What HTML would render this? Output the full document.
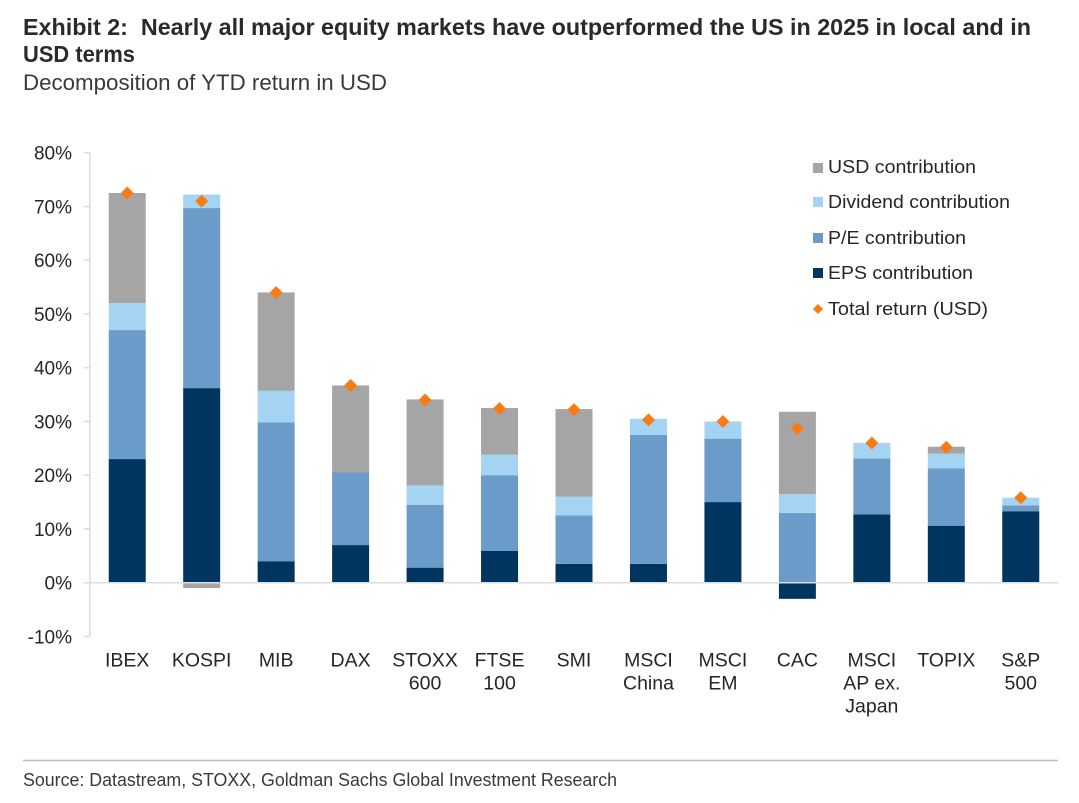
<!DOCTYPE html>
<html lang="en">
<head>
<meta charset="utf-8">
<title>Exhibit 2</title>
<style>
html,body{margin:0;padding:0;background:#fff;width:1079px;height:803px;overflow:hidden}
svg{display:block;font-family:"Liberation Sans",Arial,sans-serif}
</style>
</head>
<body>
<svg id="chart" width="1079" height="803" viewBox="0 0 1079 803" xmlns="http://www.w3.org/2000/svg">
  <rect x="0" y="0" width="1079" height="803" fill="#ffffff"/>
  <text x="23" y="35" font-size="23" font-weight="700" fill="#2a2a2e" textLength="1008" lengthAdjust="spacingAndGlyphs" xml:space="preserve">Exhibit 2:  Nearly all major equity markets have outperformed the US in 2025 in local and in</text>
  <text x="23" y="62" font-size="23" font-weight="700" fill="#2a2a2e" textLength="112" lengthAdjust="spacingAndGlyphs">USD terms</text>
  <text x="23" y="90" font-size="22" fill="#3a3a3e" textLength="364" lengthAdjust="spacingAndGlyphs">Decomposition of YTD return in USD</text>

  <g id="y-axis"></g>
  <g id="bars"></g>
  <line id="zero-line" stroke="#dcdcdc" stroke-width="1.5"/>
  <g id="markers"></g>
  <g id="x-axis"></g>

  <g font-size="18.5" fill="#262626">
    <g>
      <rect x="813" y="163" width="10" height="10" fill="#a5a5a5"/>
      <text x="828" y="173" textLength="148" lengthAdjust="spacingAndGlyphs">USD contribution</text>
    </g>
    <g>
      <rect x="813" y="197" width="10" height="10" fill="#a5d4f3"/>
      <text x="828" y="208" textLength="182" lengthAdjust="spacingAndGlyphs">Dividend contribution</text>
    </g>
    <g>
      <rect x="813" y="233" width="10" height="10" fill="#6a9bc9"/>
      <text x="828" y="244" textLength="138" lengthAdjust="spacingAndGlyphs">P/E contribution</text>
    </g>
    <g>
      <rect x="813" y="268" width="10" height="10" fill="#003560"/>
      <text x="828" y="279" textLength="145" lengthAdjust="spacingAndGlyphs">EPS contribution</text>
    </g>
    <g>
      <polygon points="818,304 823,309 818,314 813,309" fill="#f97b12"/>
      <text x="828" y="315" textLength="160" lengthAdjust="spacingAndGlyphs">Total return (USD)</text>
    </g>
  </g>

  <line x1="23" y1="760.5" x2="1058" y2="760.5" stroke="#bdbdbd" stroke-width="1.5"/>
  <text x="23" y="786" font-size="18" fill="#3a3a3e" textLength="594" lengthAdjust="spacingAndGlyphs">Source: Datastream, STOXX, Goldman Sachs Global Investment Research</text>
</svg>
<script>
const categories = [
  ["IBEX"], ["KOSPI"], ["MIB"], ["DAX"], ["STOXX", "600"], ["FTSE", "100"], ["SMI"],
  ["MSCI", "China"], ["MSCI", "EM"], ["CAC"], ["MSCI", "AP ex.", "Japan"], ["TOPIX"], ["S&P", "500"]
];
const epsContribution      = [23.0, 36.2,  4.0,  7.0,  2.8,  5.9,  3.5,  3.5, 15.0, -3.0, 12.7, 10.6, 13.3];
const peContribution       = [24.0, 33.5, 25.8, 13.5, 11.7, 14.1,  9.0, 24.0, 11.8, 13.0, 10.4, 10.7,  1.1];
const dividendContribution = [ 5.0,  2.5,  5.9,  0.0,  3.6,  3.8,  3.5,  3.0,  3.2,  3.5,  2.9,  2.7,  1.4];
const usdContribution      = [20.5, -1.0, 18.3, 16.2, 16.0,  8.7, 16.3,  0.0,  0.0, 15.3,  0.0,  1.3,  0.0];
const totalReturn          = [72.5, 71.0, 54.0, 36.7, 34.0, 32.4, 32.2, 30.3, 30.0, 28.7, 26.0, 25.2, 15.8];
const yTicks = [-10, 0, 10, 20, 30, 40, 50, 60, 70, 80];

const SVG_NS = "http://www.w3.org/2000/svg";
const plotLeft = 90, plotRight = 1058, y80 = 152.7, y0 = 582.7;
const barWidth = 37;
const yScale = v => y0 - (v / 80) * (y0 - y80);
const xCenter = i => plotLeft + (plotRight - plotLeft) * (i + 0.5) / categories.length;
const make = (tag, attrs) => {
  const el = document.createElementNS(SVG_NS, tag);
  Object.keys(attrs).forEach(k => el.setAttribute(k, attrs[k]));
  return el;
};

const yAxis = document.getElementById("y-axis");
const axisLine = make("line", {x1: plotLeft, x2: plotLeft, y1: yScale(80), y2: yScale(-10), stroke: "#dcdcdc", "stroke-width": 1.5});


yAxis.appendChild(axisLine);
yTicks.forEach(t => {
  const tick = make("line", {x1: 84, x2: plotLeft, y1: yScale(t), y2: yScale(t), stroke: "#dcdcdc", "stroke-width": 1.5});
  
  
  yAxis.appendChild(tick);
  const label = make("text", {x: 72, y: yScale(t) + 6.8, "text-anchor": "end", "font-size": 19, fill: "#262626"});
  
  
  label.textContent = t + "%";
  yAxis.appendChild(label);
});

const seriesList = [
  {key: "eps", values: epsContribution, color: "#003560"},
  {key: "pe", values: peContribution, color: "#6a9bc9"},
  {key: "dividend", values: dividendContribution, color: "#a5d4f3"},
  {key: "usd", values: usdContribution, color: "#a5a5a5"}
];
const barsGroup = document.getElementById("bars");
categories.forEach((cat, i) => {
  let pos = 0, neg = 0;
  seriesList.forEach(s => {
    const v = s.values[i];
    if (v === 0) return;
    let from, to;
    if (v > 0) { from = pos; to = pos + v; pos = to; }
    else { from = neg; to = neg + v; neg = to; }
    const rect = make("rect", {
      x: xCenter(i) - barWidth / 2,
      y: yScale(Math.max(from, to)),
      width: barWidth,
      height: Math.abs(yScale(from) - yScale(to)),
      fill: s.color
    });
    
    
    barsGroup.appendChild(rect);
  });
});

const zeroLine = document.getElementById("zero-line");
zeroLine.setAttribute("x1", 84);
zeroLine.setAttribute("x2", plotRight);
zeroLine.setAttribute("y1", yScale(0));
zeroLine.setAttribute("y2", yScale(0));

const markers = document.getElementById("markers");
totalReturn.forEach((v, i) => {
  const cx = xCenter(i), cy = yScale(v), r = 6.5;
  const d = make("polygon", {
    points: cx + "," + (cy - r) + " " + (cx + r) + "," + cy + " " + cx + "," + (cy + r) + " " + (cx - r) + "," + cy,
    fill: "#f97b12"
  });
  
  
  markers.appendChild(d);
});

const xAxis = document.getElementById("x-axis");
categories.forEach((lines, i) => {
  lines.forEach((line, j) => {
    const t = make("text", {x: xCenter(i), y: 666.5 + j * 23, "text-anchor": "middle", "font-size": 19.5, fill: "#262626"});
    
    
    t.textContent = line;
    xAxis.appendChild(t);
  });
});
</script>
</body>
</html>
